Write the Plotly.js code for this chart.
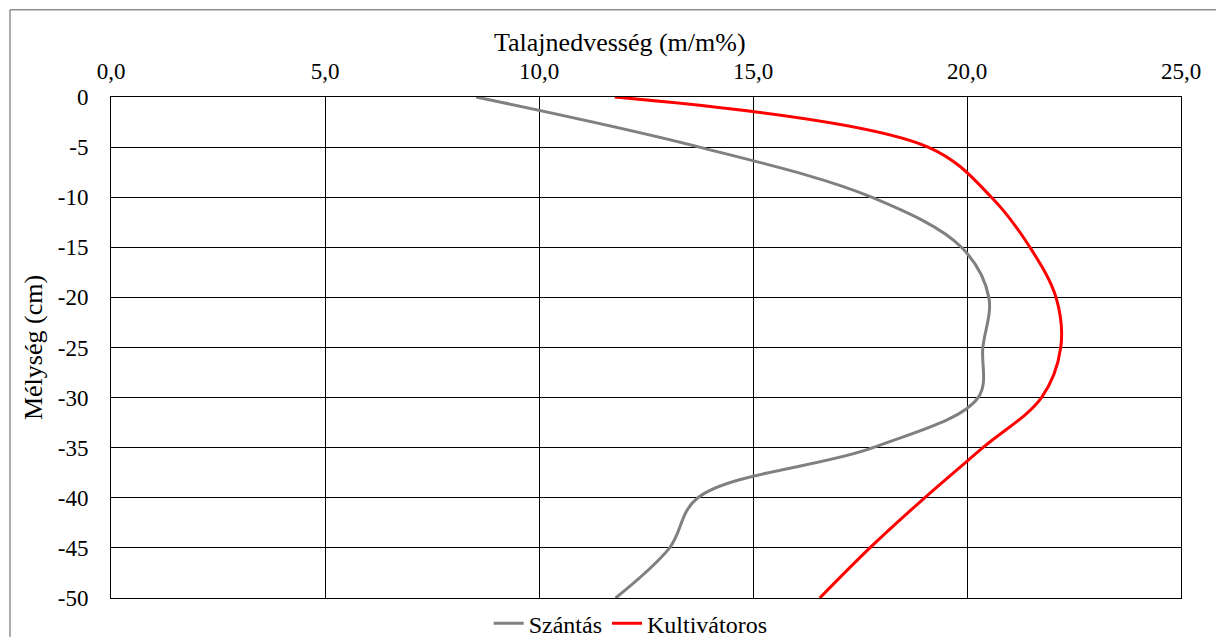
<!DOCTYPE html>
<html>
<head>
<meta charset="utf-8">
<script src="https://cdn.plot.ly/plotly-3.0.1.min.js"></script>
<style>
html,body{margin:0;padding:0;background:#fff;}
#chart{width:1216px;height:637px;}
</style>
</head>
<body>
<div id="chart"></div>
<script>
const depths = [0, -5, -10, -15, -20, -25, -30, -35, -40, -45, -50];
const szantas = [8.53, 13.75, 17.77, 19.87, 20.51, 20.37, 20.26, 17.80, 13.71, 13.05, 11.79];
const kultivatoros = [11.77, 19.09, 20.57, 21.47, 22.08, 22.19, 21.74, 20.37, 19.01, 17.73, 16.56];
const xTickVals = [0, 5, 10, 15, 20, 25];
const xTickText = ["0,0", "5,0", "10,0", "15,0", "20,0", "25,0"];
const yTickVals = [0, -5, -10, -15, -20, -25, -30, -35, -40, -45, -50];
const yTickText = ["0", "-5", "-10", "-15", "-20", "-25", "-30", "-35", "-40", "-45", "-50"];
const xTitle = "Talajnedvesség (m/m%)";
const yTitle = "Mélység (cm)";

const FAM = "Liberation Serif";

const traces = [
  {x: szantas, y: depths, name: "Szántás", mode: "lines", type: "scatter",
   line: {color: "#808080", width: 3, shape: "spline", smoothing: 1}},
  {x: kultivatoros, y: depths, name: "Kultivátoros", mode: "lines", type: "scatter",
   line: {color: "#ff0000", width: 3, shape: "spline", smoothing: 1}}
];

const layout = {
  width: 1216, height: 637,
  margin: {l: 111, r: 35, t: 97, b: 39, autoexpand: false},
  paper_bgcolor: "#fff", plot_bgcolor: "#fff",
  font: {family: FAM, size: 23, color: "#000"},
  showlegend: true,
  legend: {orientation: "h", x: 0.353, xanchor: "left", y: -0.051, yanchor: "middle",
           font: {family: FAM, size: 24, color: "#000"}, traceorder: "normal"},
  xaxis: {
    side: "top", range: [0, 25], tickvals: xTickVals, ticktext: xTickText,
    tickfont: {family: FAM, size: 23, color: "#000"},
    showgrid: true, gridcolor: "#000", gridwidth: 1, zeroline: false,
    showline: true, linecolor: "#000", linewidth: 1, mirror: true,
    ticks: "outside", ticklen: 8, tickcolor: "rgba(0,0,0,0)",
    fixedrange: true
  },
  yaxis: {
    range: [-50, 0], tickvals: yTickVals, ticktext: yTickText,
    tickfont: {family: FAM, size: 23, color: "#000"},
    showgrid: true, gridcolor: "#000", gridwidth: 1, zeroline: false,
    showline: true, linecolor: "#000", linewidth: 1, mirror: true,
    ticks: "outside", ticklen: 17, tickcolor: "rgba(0,0,0,0)",
    title: {text: yTitle, standoff: 7, font: {family: FAM, size: 26, color: "#000"}},
    fixedrange: true
  },
  annotations: [{text: xTitle, xref: "paper", yref: "paper", x: 0.476, y: 1.108,
                 xanchor: "center", yanchor: "middle", showarrow: false,
                 font: {family: FAM, size: 26, color: "#000"}}],
  shapes: [{type: "rect", xref: "paper", yref: "paper",
            x0: -0.0944, x1: 1.2, y0: -0.3, y1: 1.174,
            line: {color: "#595959", width: 1}, fillcolor: "rgba(0,0,0,0)", layer: "below"}]
};

Plotly.newPlot("chart", traces, layout, {displayModeBar: false});
</script>
</body>
</html>
